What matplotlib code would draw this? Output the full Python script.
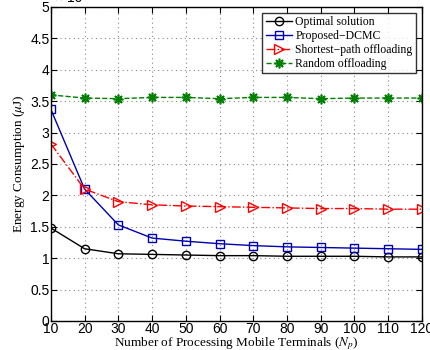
import matplotlib
matplotlib.use('Agg')
from matplotlib import pyplot as plt

# Dane (skala x 10^-?)
n_terminals = [10, 20, 30, 40, 50, 60, 70, 80, 90, 100, 110, 120]
optimal = [1.48, 1.15, 1.07, 1.06, 1.05, 1.04, 1.04, 1.03, 1.03, 1.03, 1.02, 1.02]
dcmc = [3.37, 2.10, 1.53, 1.32, 1.27, 1.23, 1.20, 1.18, 1.17, 1.16, 1.15, 1.14]
shortest = [2.82, 2.10, 1.90, 1.85, 1.83, 1.82, 1.81, 1.80, 1.79, 1.79, 1.78, 1.78]
random_off = [3.60, 3.55, 3.54, 3.56, 3.56, 3.54, 3.56, 3.56, 3.54, 3.55, 3.55, 3.55]
y_ticks = [0, 0.5, 1, 1.5, 2, 2.5, 3, 3.5, 4, 4.5, 5]
y_labels = ['0', '0.5', '1', '1.5', '2', '2.5', '3', '3.5', '4', '4.5', '5']

plt.rcParams['mathtext.fontset'] = 'stix'

fig = plt.figure(figsize=(4.31, 3.5), dpi=100)
ax = fig.add_axes([0.118, 0.083, 0.861, 0.897])

ax.plot(n_terminals, optimal, '-o', color='black', lw=1, ms=6, mfc='none', mew=1,
        label='Optimal solution')
ax.plot(n_terminals, dcmc, '-s', color='#0000b0', lw=1, ms=5.5, mfc='none', mew=1,
        label='Proposed\u2212DCMC')
ax.plot(n_terminals, shortest, '-.', marker='>', color='red', lw=1, ms=7, mfc='none', mew=1,
        label='Shortest\u2212path offloading')
ax.plot(n_terminals, random_off, '--', marker=(8, 2, 0), color='#008000', lw=1, ms=7, mew=1.2,
        label='Random offloading')

ax.set_xlim(10, 120)
ax.set_ylim(0, 5)
ax.set_xticks(n_terminals)
ax.set_yticks(y_ticks)
ax.set_yticklabels(y_labels)
ax.tick_params(direction='in', labelsize=10, length=4, top=True, right=True, pad=1)
for lab in ax.get_xticklabels() + ax.get_yticklabels():
    lab.set_family('Liberation Sans')
ax.grid(True, linestyle=(0, (1, 3)), color='#888888', lw=0.8)
for s in ax.spines.values():
    s.set_linewidth(1)

ax.set_xlabel('Number of Processing Mobile Terminals ($N_p$)', family='Liberation Serif',
              fontsize=9.5, labelpad=-1)
ax.set_ylabel('Energy Consumption ($\\mu$J)', family='Liberation Serif', fontsize=9.5,
              labelpad=2)
fig.text(0.118 + 0.01, 0.985, '\u00d7 10', fontsize=10, family='Liberation Sans', va='bottom')

leg = ax.legend(loc='upper right', prop={'family': 'Liberation Serif', 'size': 8.5},
                fancybox=False, edgecolor='black', handlelength=2.2, borderpad=0.3,
                labelspacing=0.15, handletextpad=0.3)
leg.get_frame().set_linewidth(1)

plt.savefig('out.png', dpi=100)
